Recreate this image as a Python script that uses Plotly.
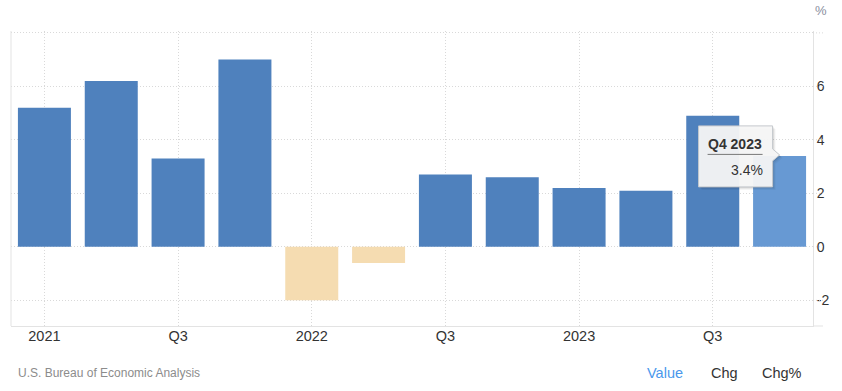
import plotly.graph_objects as go

quarters = ["Q1 2021", "Q2 2021", "Q3 2021", "Q4 2021",
            "Q1 2022", "Q2 2022", "Q3 2022", "Q4 2022",
            "Q1 2023", "Q2 2023", "Q3 2023", "Q4 2023"]
gdp_growth = [5.2, 6.2, 3.3, 7.0, -2.0, -0.6, 2.7, 2.6, 2.2, 2.1, 4.9, 3.4]
x_tick_labels = ["2021", "Q3", "2022", "Q3", "2023", "Q3"]
y_tick_vals = [-2, 0, 2, 4, 6, 8]
y_tick_labels = ["-2", "0", "2", "4", "6", ""]
highlight = "Q4 2023"

BLUE = "#4F81BD"
BLUE_HI = "#6799D3"
NEG = "#F5DCB1"
GRID = "#d9d9d9"
TXT = "#333333"
FONT = "Liberation Sans, Arial, sans-serif"
DOT = "1px,2px"

colors = []
for q, v in zip(quarters, gdp_growth):
    if v < 0:
        colors.append(NEG)
    elif q == highlight:
        colors.append(BLUE_HI)
    else:
        colors.append(BLUE)

fig = go.Figure(go.Bar(x=quarters, y=gdp_growth, marker=dict(color=colors, line=dict(width=0)),
                       hoverinfo="skip"))

fig.update_layout(
    width=842, height=391,
    margin=dict(l=11, r=29, t=31, b=65, autoexpand=False),
    paper_bgcolor="white", plot_bgcolor="white",
    bargap=0.207,
    showlegend=False,
    font=dict(family=FONT, color=TXT),
)
fig.update_xaxes(
    type="category", automargin=False,
    tickmode="array", tickvals=quarters[::2], ticktext=x_tick_labels,
    showgrid=True, gridcolor=GRID, griddash=DOT, gridwidth=1,
    showline=True, linecolor="#e3e3e3", linewidth=1,
    ticks="", tickfont=dict(size=14.5, color=TXT), ticklabelstandoff=-3,
    range=[-0.5, len(quarters) - 0.5],
)
fig.update_yaxes(
    side="right", automargin=False,
    tickmode="array", tickvals=y_tick_vals, ticktext=y_tick_labels,
    showgrid=True, gridcolor=GRID, griddash=DOT, gridwidth=1,
    zeroline=False, showline=True, linecolor="#e3e3e3", linewidth=1,
    ticks="", tickfont=dict(size=14, color=TXT),
    range=[-2.96, 8.07],
)

shapes = []
# left border
shapes.append(dict(type="line", xref="paper", yref="paper", x0=0, x1=0, y0=0, y1=1,
                   line=dict(color="#e3e3e3", width=1)))
# bottom line extension
shapes.append(dict(type="line", xref="paper", yref="paper", x0=1, x1=1.0125, y0=0, y1=0,
                   line=dict(color="#e3e3e3", width=1)))
# gridline extensions beyond right border
for v in y_tick_vals:
    shapes.append(dict(type="line", xref="paper", yref="y", x0=1, x1=1.0125, y0=v, y1=v,
                       line=dict(color=GRID, width=1, dash=DOT)))

# tooltip
hi_idx = quarters.index(highlight)
hi_val = gdp_growth[hi_idx]
box_pts = [("M", -81, 30), ("L", -7, 30), ("L", -7, 7), ("L", 0, 1), ("L", -7, -5),
           ("L", -7, -31), ("L", -81, -31)]


def make_path(off):
    return " ".join(f"{c} {x + off},{y - off}" for c, x, y in box_pts) + " Z"


for off, alpha in [(3, 0.04), (2, 0.06), (1, 0.08)]:
    shapes.append(dict(type="path", xref="x", yref="y", xsizemode="pixel", ysizemode="pixel",
                       xanchor=highlight, yanchor=hi_val, path=make_path(off),
                       fillcolor=f"rgba(0,0,0,{alpha})", line=dict(width=0)))
shapes.append(dict(type="path", xref="x", yref="y", xsizemode="pixel", ysizemode="pixel",
                   xanchor=highlight, yanchor=hi_val, path=make_path(0),
                   fillcolor="rgba(247,247,247,0.95)", line=dict(color="#c4c8cc", width=1)))
shapes.append(dict(type="line", xref="x", yref="y", xsizemode="pixel", ysizemode="pixel",
                   xanchor=highlight, yanchor=hi_val, x0=-72, x1=-17, y0=1.5, y1=1.5,
                   line=dict(color="#777777", width=1)))
fig.update_layout(shapes=shapes)

plot_w = 842 - 11 - 29


def px_to_paper(px):
    return (px - 11) / plot_w


annotations = [
    dict(x=highlight, y=hi_val, xref="x", yref="y", text=f"<b>{highlight}</b>", showarrow=False,
         xshift=-44.5, yshift=12, font=dict(size=14, color=TXT, family=FONT)),
    dict(x=highlight, y=hi_val, xref="x", yref="y", text=f"{hi_val}%", showarrow=False,
         xshift=-33, yshift=-14, font=dict(size=14, color=TXT, family=FONT)),
    dict(x=1.0, y=1.0, xref="paper", yref="paper", text="%", showarrow=False,
         xanchor="left", yanchor="bottom", xshift=0, yshift=11,
         font=dict(size=13, color="#8a8fa0", family=FONT)),
    dict(x=px_to_paper(16), y=0, xref="paper", yref="paper", text="U.S. Bureau of Economic Analysis",
         showarrow=False, xanchor="left", yanchor="middle", yshift=-47,
         font=dict(size=12, color="#8c8c8c", family=FONT)),
    dict(x=px_to_paper(645), y=0, xref="paper", yref="paper", text="Value", showarrow=False,
         xanchor="left", yanchor="middle", yshift=-47,
         font=dict(size=14.5, color="#4a98ec", family=FONT)),
    dict(x=px_to_paper(709), y=0, xref="paper", yref="paper", text="Chg", showarrow=False,
         xanchor="left", yanchor="middle", yshift=-47,
         font=dict(size=14.5, color=TXT, family=FONT)),
    dict(x=px_to_paper(760), y=0, xref="paper", yref="paper", text="Chg%", showarrow=False,
         xanchor="left", yanchor="middle", yshift=-47,
         font=dict(size=14.5, color=TXT, family=FONT)),
]
fig.update_layout(annotations=annotations)

fig.write_html("out.html", config={"displayModeBar": False},
               post_script="document.body.style.margin='0';document.body.style.overflow='hidden';")
